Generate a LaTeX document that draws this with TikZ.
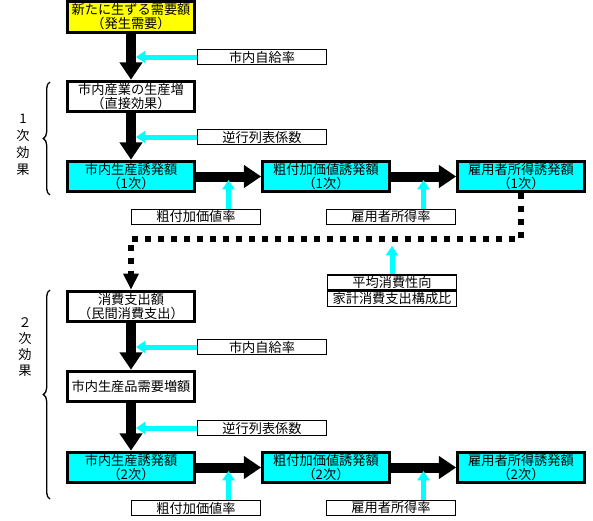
\documentclass[tikz,border=0pt]{standalone}
\usepackage{fontspec}
\newfontfamily\jp{Noto Sans CJK JP}
\usetikzlibrary{arrows.meta,decorations.pathreplacing}
\definecolor{aqua}{RGB}{0,255,255}
\definecolor{lemon}{RGB}{255,255,0}
\tikzset{
  mainbox/.style={draw,line width=2.2pt,minimum width=95pt,minimum height=23pt,inner sep=0pt,align=center},
  ratebox/.style={draw,line width=1.1pt,minimum width=96.5pt,minimum height=11.5pt,inner sep=0pt},
  bigarrow/.style={line width=7.5pt,-{Triangle[width=16.5pt,length=13pt]}},
  cyanarrow/.style={aqua,line width=3.75pt,-{Triangle[width=9pt,length=7pt]}},
  dotline/.style={line width=4.5pt,dash pattern=on 4.5pt off 5.25pt,-{Triangle[width=11pt,length=12pt]}},
  effbrace/.style={line width=1pt,decorate,decoration={brace,amplitude=5pt}}
}
\begin{document}
\begin{tikzpicture}[x=0.75pt,y=-0.75pt,font=\jp\fontsize{9.9}{10.5}\selectfont]
    \useasboundingbox (0,0) rectangle (593,521);

    \node[mainbox,fill=lemon] (new) at (131,17) {新たに生ずる需要額\\（発生需要）};
    \node[ratebox] (rate1) at (262,57) {市内自給率};
    \node[mainbox] (direct) at (131,96.5) {市内産業の生産増\\（直接効果）};
    \node[ratebox] (inv1) at (262,137) {逆行列表係数};
    \node[mainbox,fill=aqua] (prod1) at (131,176.5) {市内生産誘発額\\（1次）};
    \node[mainbox,fill=aqua] (gva1) at (326,176.5) {粗付加価値誘発額\\（1次）};
    \node[mainbox,fill=aqua] (emp1) at (521,176.5) {雇用者所得誘発額\\（1次）};
    \node[ratebox] (gvr1) at (196,217) {粗付加価値率};
    \node[ratebox] (empr1) at (391,217) {雇用者所得率};

    \node[ratebox] (avg) at (392,282.5) {平均消費性向};
    \node[ratebox] (house) at (392,299) {家計消費支出構成比};

    \node[mainbox] (cons) at (131,306.5) {消費支出額\\（民間消費支出）};
    \node[ratebox] (rate2) at (262,347) {市内自給率};
    \node[mainbox] (demand) at (131,386.5) {市内生産品需要増額};
    \node[ratebox] (inv2) at (262,428) {逆行列表係数};
    \node[mainbox,fill=aqua] (prod2) at (131,467.5) {市内生産誘発額\\（2次）};
    \node[mainbox,fill=aqua] (gva2) at (326,467.5) {粗付加価値誘発額\\（2次）};
    \node[mainbox,fill=aqua] (emp2) at (521,467.5) {雇用者所得誘発額\\（2次）};
    \node[ratebox] (gvr2) at (196,508) {粗付加価値率};
    \node[ratebox] (empr2) at (391,508) {雇用者所得率};

    \node[align=center,font=\jp\fontsize{9.9}{12.8}\selectfont] (eff1) at (23,145) {1\\次\\効\\果};
    \node[align=center,font=\jp\fontsize{9.9}{12.2}\selectfont] (eff2) at (25,347) {２\\次\\効\\果};
    \draw[effbrace] (50,195) -- (50,82);
    \draw[effbrace] (50,499) -- (50,290);

    \coordinate (a1) at (136,57);
    \coordinate (a2) at (136,137);
    \coordinate (a3) at (228.5,180);
    \coordinate (a4) at (423.5,180);
    \coordinate (a5) at (392,246);
    \coordinate (a6) at (136,347);
    \coordinate (a7) at (136,428);
    \coordinate (a8) at (228.5,471);
    \coordinate (a9) at (423.5,471);

    \draw[bigarrow] (new) -- (direct);
    \draw[bigarrow] (direct) -- (prod1);
    \draw[bigarrow] (prod1) -- (gva1);
    \draw[bigarrow] (gva1) -- (emp1);
    \draw[bigarrow] (cons) -- (demand);
    \draw[bigarrow] (demand) -- (prod2);
    \draw[bigarrow] (prod2) -- (gva2);
    \draw[bigarrow] (gva2) -- (emp2);

    \draw[dotline] (emp1.south) -- (emp1.south |- 0,239) -| (cons.north);

    \draw[cyanarrow] (rate1) -- (a1);
    \draw[cyanarrow] (inv1) -- (a2);
    \draw[cyanarrow] (gvr1.north -| a3) -- (a3);
    \draw[cyanarrow] (empr1.north -| a4) -- (a4);
    \draw[cyanarrow] (avg) -- (a5);
    \draw[cyanarrow] (rate2) -- (a6);
    \draw[cyanarrow] (inv2) -- (a7);
    \draw[cyanarrow] (gvr2.north -| a8) -- (a8);
    \draw[cyanarrow] (empr2.north -| a9) -- (a9);
\end{tikzpicture}
\end{document}
